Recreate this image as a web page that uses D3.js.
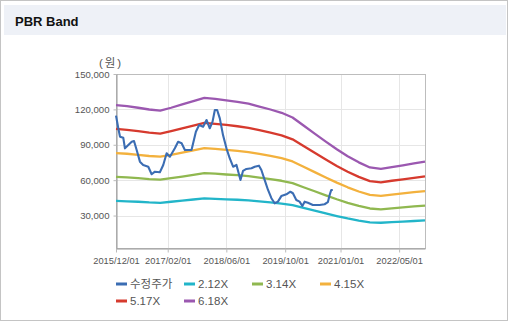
<!DOCTYPE html>
<html>
<head>
<meta charset="utf-8">
<script src="https://cdn.jsdelivr.net/npm/d3@7"></script>
<style>
  html, body { margin: 0; padding: 0; background: #fff; }
  svg { display: block; font-family: "Liberation Sans", Arial, "Noto Sans CJK KR", sans-serif; }
</style>
</head>
<body>
<svg id="chart" width="509" height="322"></svg>
<script>
// ---- data ----
const bandDates = ["2015-12","2016-03","2016-06","2016-09","2016-12","2017-03","2017-06","2017-09","2017-12",
  "2018-03","2018-06","2018-09","2018-12","2019-03","2019-06","2019-09","2019-12","2020-03","2020-06",
  "2020-09","2020-12","2021-03","2021-06","2021-09","2021-12","2022-03","2022-06","2022-09","2022-12"];

const band212 = [42400,42100,41700,41100,40800,41700,42600,43600,44500,44200,43800,43400,42800,42000,41100,
  40200,38800,36500,34100,31800,29600,27600,25800,24300,23900,24400,24900,25400,26000];
const band314 = [62800,62300,61700,60900,60400,61700,63100,64500,65900,65500,64800,64200,63400,62200,60900,
  59500,57500,54000,50600,47100,43800,40800,38200,36000,35300,36100,36900,37700,38500];
const band415 = [83000,82400,81500,80500,79900,81500,83400,85300,87200,86500,85700,84900,83800,82200,80500,
  78600,75900,71400,66800,62300,57900,53950,50400,47500,46700,47700,48800,49800,50800];
const band517 = [103400,102600,101600,100300,99500,101600,103900,106200,108600,107800,106800,105700,104400,102400,100300,
  98000,94600,88900,83200,77600,72100,67200,62800,59200,58200,59500,60700,62000,63300];
const band618 = [123600,122700,121400,119900,119000,121400,124200,127000,129800,128900,127600,126400,124800,122400,119900,
  117100,113100,106300,99500,92700,86200,80300,75100,70800,69500,71100,72600,74200,75700];

const priceDates = ["2015-12-01","2015-12-20","2016-01-03","2016-01-30","2016-02-13","2016-03-12","2016-04-09",
  "2016-04-28","2016-05-20","2016-06-16","2016-07-13","2016-08-24","2016-09-21","2016-10-18","2016-11-28",
  "2016-12-26","2017-01-23","2017-02-19","2017-04-01","2017-04-28","2017-05-27","2017-06-23","2017-08-17",
  "2017-09-22","2017-10-19","2017-11-21","2017-12-19","2018-01-15","2018-02-07","2018-02-26","2018-03-17",
  "2018-04-08","2018-05-05","2018-06-02","2018-06-29","2018-07-27","2018-08-24","2018-09-26","2018-10-17",
  "2018-11-14","2018-12-26","2019-01-22","2019-02-26","2019-03-18","2019-04-14","2019-05-12","2019-06-09",
  "2019-07-06","2019-08-02","2019-08-30","2019-10-11","2019-11-13","2019-12-04","2020-01-01","2020-01-28",
  "2020-02-20","2020-03-10","2020-04-06","2020-05-17","2020-07-12","2020-08-22","2020-09-18","2020-10-02",
  "2020-10-16","2020-10-29"];
const priceValues = [114700,104000,96900,96000,87000,89800,92600,
  93200,85600,75700,72900,71400,65000,67200,66700,
  72900,82800,79900,87000,92600,91300,85600,85600,
  101100,106800,105300,111000,104000,109600,119500,119500,
  112400,98000,87000,78600,71400,72900,60200,67800,
  69500,70100,71400,72300,68600,60200,51700,44700,
  40400,41800,46500,48000,50200,48900,43200,41800,
  38100,41800,40900,39000,39000,39600,41300,47100,
  51700,51700];

const xTickLabels = ["2015/12/01","2017/02/01","2018/06/01","2019/10/01","2021/01/01","2022/05/01"];
const yTickValues = [30000,60000,90000,120000,150000];

const seriesNames = ["수정주가","2.12X","3.14X","4.15X","5.17X","6.18X"];
const seriesColors = ["#3b6db3","#22b5c9","#90b850","#f3b13d","#d63a2e","#9b58b0"];

// ---- frame ----
const svg = d3.select("#chart");
svg.append("rect").attr("x",0.5).attr("y",0.5).attr("width",507).attr("height",320)
  .attr("fill","#fff").attr("stroke","#c4c4c4");
svg.append("rect").attr("x",4).attr("y",5).attr("width",502).attr("height",30).attr("fill","#eef1f7");
svg.append("text").attr("x",15).attr("y",26).attr("font-size",13).attr("font-weight","bold")
  .attr("fill","#111").text("PBR Band");

// ---- scales ----
const pm = d3.timeParse("%Y-%m");
const pd = d3.timeParse("%Y-%m-%d");
const px = d3.timeParse("%Y/%m/%d");
const plotL = 116, plotR = 425, plotT = 74, plotB = 248;
const x = d3.scaleTime().domain([pd("2015-12-01"), pd("2022-12-01")]).range([plotL, plotR]);
const y = d3.scaleLinear().domain([2500, 150000]).range([plotB, plotT]);

// grid
const g = svg.append("g");
g.selectAll("line.vg").data(xTickLabels.slice(1)).join("line")
  .attr("x1", d => Math.round(x(px(d))) + 0.5).attr("x2", d => Math.round(x(px(d))) + 0.5)
  .attr("y1", plotT).attr("y2", plotB).attr("stroke", "#e6e6e6");
g.selectAll("line.hg").data(yTickValues.slice(0, -1)).join("line")
  .attr("x1", plotL).attr("x2", plotR)
  .attr("y1", d => Math.round(y(d)) + 0.5).attr("y2", d => Math.round(y(d)) + 0.5).attr("stroke", "#e6e6e6");
g.append("rect").attr("x", plotL + 0.5).attr("y", plotT + 0.5).attr("width", plotR - plotL).attr("height", plotB - plotT)
  .attr("fill", "none").attr("stroke", "#bdbdbd");

// axes
const xAxis = d3.axisBottom(x).tickValues(xTickLabels.map(px)).tickFormat(d3.timeFormat("%Y/%m/%d"))
  .tickSize(4).tickSizeOuter(0);
const gx = svg.append("g").attr("transform", `translate(0,${plotB + 0.5})`).call(xAxis);
gx.select(".domain").attr("stroke", "#999");
gx.selectAll(".tick line").attr("stroke", "#bbb");
gx.selectAll(".tick text").attr("font-size", 9.3).attr("fill", "#555").attr("dy", "0.9em")
  .attr("font-family", "Liberation Sans, Arial, sans-serif");

const yAxis = d3.axisLeft(y).tickValues(yTickValues).tickFormat(d3.format(",")).tickSize(3).tickSizeOuter(0);
const gy = svg.append("g").attr("transform", `translate(${plotL + 0.5},0)`).call(yAxis);
gy.select(".domain").attr("stroke", "#999");
gy.selectAll(".tick line").attr("stroke", "#bbb");
gy.selectAll(".tick text").attr("font-size", 9.6).attr("fill", "#555").attr("x", -7)
  .attr("font-family", "Liberation Sans, Arial, sans-serif");

svg.append("text").attr("x", 111).attr("y", 67).attr("text-anchor", "middle")
  .attr("font-size", 11.5).attr("fill", "#555").attr("letter-spacing", 2).text("(원)");

// lines
const bands = [band212, band314, band415, band517, band618];
const line = d3.line().x(d => x(d[0])).y(d => y(d[1]));
bands.forEach((vals, i) => {
  svg.append("path").datum(bandDates.map((d, j) => [pm(d), vals[j]]))
    .attr("d", line).attr("fill", "none").attr("stroke", seriesColors[i + 1])
    .attr("stroke-width", 2.3).attr("stroke-linejoin", "round");
});
svg.append("path").datum(priceDates.map((d, j) => [pd(d), priceValues[j]]))
  .attr("d", line).attr("fill", "none").attr("stroke", seriesColors[0])
  .attr("stroke-width", 2.1).attr("stroke-linejoin", "round");

// legend
const lg = svg.append("g");
seriesNames.forEach((name, i) => {
  const lx = 116 + (i % 4) * 68, ly = 284 + Math.floor(i / 4) * 17;
  lg.append("rect").attr("x", lx).attr("y", ly - 1.5).attr("width", 11).attr("height", 3)
    .attr("fill", seriesColors[i]);
  lg.append("text").attr("x", lx + 14).attr("y", ly).attr("dy", "0.36em")
    .attr("font-size", 11.5).attr("fill", "#555")
    .attr("font-family", i === 0 ? "Noto Sans CJK KR, sans-serif" : "Liberation Sans, Arial, sans-serif")
    .text(name);
});
</script>
</body>
</html>
